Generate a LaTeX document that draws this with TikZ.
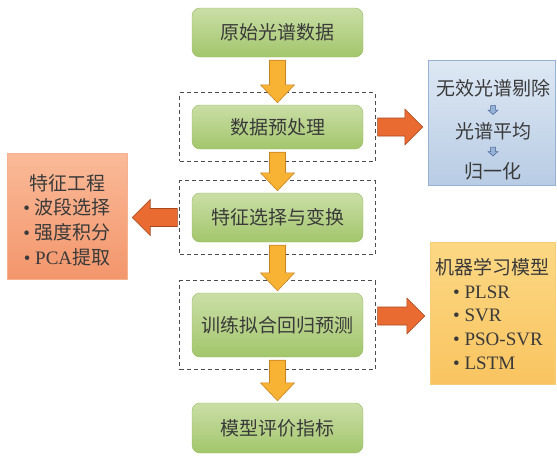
\documentclass[tikz,border=0pt]{standalone}
\usepackage{xcolor}
\usepackage{fontspec}
\setmainfont{Liberation Serif}
\newfontfamily\cjk{Noto Sans CJK SC}
\usepackage{tikz}
\usetikzlibrary{calc,fit}

\newcommand{\zh}[1]{{\cjk #1}}

\definecolor{grtop}{RGB}{202,222,166}
\definecolor{grbot}{RGB}{163,198,108}
\definecolor{grline}{RGB}{150,186,98}
\definecolor{orfill}{RGB}{248,178,52}
\definecolor{orline}{RGB}{200,132,36}
\definecolor{redfill}{RGB}{233,107,50}
\definecolor{redline}{RGB}{165,72,32}
\definecolor{bltop}{RGB}{222,232,244}
\definecolor{blbot}{RGB}{184,204,228}
\definecolor{blline}{RGB}{150,178,212}
\definecolor{satop}{RGB}{250,186,152}
\definecolor{sabot}{RGB}{243,150,108}
\definecolor{saline}{RGB}{246,178,144}
\definecolor{mltop}{RGB}{252,216,132}
\definecolor{mlbot}{RGB}{249,196,96}
\definecolor{mlline}{RGB}{246,204,118}
\definecolor{smfill}{RGB}{150,178,215}
\definecolor{smline}{RGB}{70,100,150}
\definecolor{txt}{RGB}{58,58,58}

\tikzset{
  stage/.style={rectangle, rounded corners=8pt, draw=grline, top color=grtop,
    bottom color=grbot, minimum width=171pt, inner sep=0pt, text=txt,
    font=\fontsize{19}{23}\selectfont\cjk},
  group/.style={draw=black!70, line width=0.9pt, dash pattern=on 4pt off 3pt,
    fit=#1, inner xsep=12pt, inner ysep=12pt},
  sidebox/.style={rectangle, inner sep=0pt},
  sidetext/.style={inner sep=0pt, text=txt},
  fatdown/.style={fill=orfill, draw=orline, line width=0.6pt},
  fatside/.style={fill=redfill, draw=redline, line width=0.6pt},
  smallarr/.style={fill=smfill, draw=smline, line width=0.5pt}
}

% block arrows between named nodes
\newcommand{\flowdown}[2]{%
  \draw[fatdown] let \p1=(#1.south), \p2=(#2.north) in
    (\x1-8pt,\y1-3pt) -- (\x1+8pt,\y1-3pt) -- (\x1+8pt,\y2+20pt)
    -- (\x1+17pt,\y2+20pt) -- (\x1,\y2+2pt) -- (\x1-17pt,\y2+20pt)
    -- (\x1-8pt,\y2+20pt) -- cycle;}
\newcommand{\flowside}[2]{%
  \draw[fatside] let \p1=(#1), \p2=(#2), \n1={sign(\x2-\x1)} in
    (\x1+\n1*2pt,\y1-9pt) -- (\x2-\n1*23pt,\y1-9pt) -- (\x2-\n1*23pt,\y1-18pt)
    -- (\x2-\n1*5pt,\y1) -- (\x2-\n1*23pt,\y1+18pt) -- (\x2-\n1*23pt,\y1+9pt)
    -- (\x1+\n1*2pt,\y1+9pt) -- cycle;}
\newcommand{\smalldown}[2]{%
  \draw[smallarr] let \p3=($(#1.south)!0.5!(#2.north)$) in
    (\x3-2.5pt,\y3+4.5pt) -- (\x3+2.5pt,\y3+4.5pt) -- (\x3+2.5pt,\y3)
    -- (\x3+5pt,\y3) -- (\x3,\y3-4.5pt) -- (\x3-5pt,\y3) -- (\x3-2.5pt,\y3) -- cycle;}

\begin{document}
\begin{tikzpicture}[x=1pt, y=-1pt]
    \useasboundingbox (0,0) rectangle (557,456);

    % main chain
    \node[stage, minimum height=49pt] (raw) at (277.5,32.5) {原始光谱数据};
    \node[stage, minimum height=44pt] (pre) at (277.5,127) {数据预处理};
    \node[stage, minimum height=49pt] (sel) at (277.5,217.5) {特征选择与变换};
    \node[stage, minimum height=64pt] (fit) at (277.5,325) {训练拟合回归预测};
    \node[stage, minimum height=50pt] (eval) at (277.5,428) {模型评价指标};

    \node[group=(pre)] (d1) {};
    \node[group=(sel)] (d2) {};
    \node[group=(fit)] (d3) {};

    \flowdown{raw}{pre}
    \flowdown{pre}{sel}
    \flowdown{sel}{fit}
    \flowdown{fit}{eval}

    % preprocessing steps
    \node[sidebox, draw=blline, top color=bltop, bottom color=blbot,
      minimum width=127pt, minimum height=125pt] (clean) at (491.5,122.5) {};
    \node[sidetext, font=\fontsize{19}{23}\selectfont\cjk] (cl1) at (493,88.5) {无效光谱剔除};
    \node[sidetext, font=\fontsize{19}{23}\selectfont\cjk] (cl2) at (493,131.5) {光谱平均};
    \node[sidetext, font=\fontsize{19}{23}\selectfont\cjk] (cl3) at (493,171.5) {归一化};
    \smalldown{cl1}{cl2}
    \smalldown{cl2}{cl3}

    % feature engineering
    \node[sidebox, draw=saline, top color=satop, bottom color=sabot,
      minimum width=120pt, minimum height=126pt] (feat) at (67,216) {};
    \node[sidetext, align=center, font=\fontsize{19}{24.7}\selectfont] (feattxt) at (67,220)
      {\zh{特征工程}\\ \textbullet\ \zh{波段选择}\\ \textbullet\ \zh{强度积分}\\ \textbullet\ PCA\zh{提取}};

    % models
    \node[sidebox, draw=mlline, top color=mltop, bottom color=mlbot,
      minimum width=125pt, minimum height=142pt] (ml) at (492.5,313) {};
    \node[sidetext, font=\fontsize{19}{23}\selectfont\cjk] (mlhead) at (492.5,267) {机器学习模型};
    \node[sidetext, align=left, anchor=west, font=\fontsize{19}{23.7}\selectfont] (mllist) at (453,327.5)
      {\textbullet\ PLSR\\ \textbullet\ SVR\\ \textbullet\ PSO-SVR\\ \textbullet\ LSTM};

    \flowside{d1.east}{clean.west}
    \flowside{d2.west}{feat.east}
    \flowside{$(d3.east)+(0,-9)$}{ml.west}

\end{tikzpicture}
\end{document}
